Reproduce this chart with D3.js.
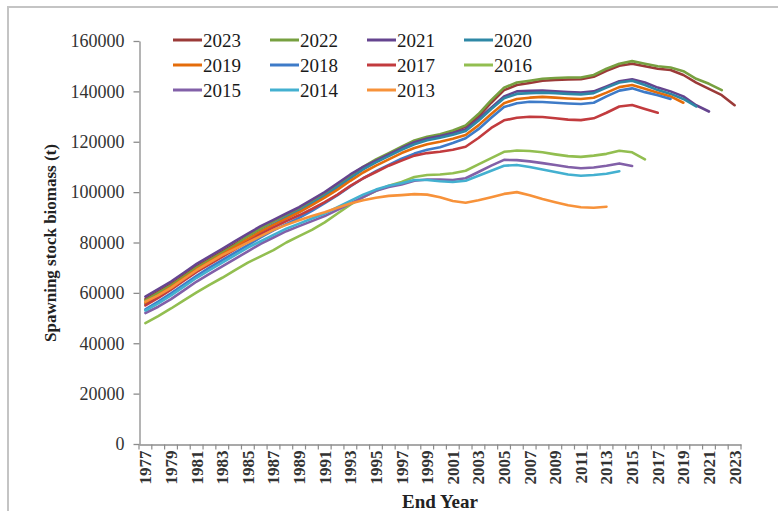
<!DOCTYPE html>
<html><head><meta charset="utf-8">
<script src="https://cdn.jsdelivr.net/npm/d3@7"></script>
<style>body{margin:0;background:#fff}svg{display:block}</style>
</head><body>
<svg id="c" width="778" height="511"></svg>
<script>
const years = [1977,1978,1979,1980,1981,1982,1983,1984,1985,1986,1987,1988,1989,1990,1991,1992,1993,1994,1995,1996,1997,1998,1999,2000,2001,2002,2003,2004,2005,2006,2007,2008,2009,2010,2011,2012,2013,2014,2015,2016,2017,2018,2019,2020,2021,2022,2023];
const xTickLabels = [1977,1979,1981,1983,1985,1987,1989,1991,1993,1995,1997,1999,2001,2003,2005,2007,2009,2011,2013,2015,2017,2019,2021,2023];
const yTicks = [0,20000,40000,60000,80000,100000,120000,140000,160000];
const seriesNames = ["2023","2022","2021","2020","2019","2018","2017","2016","2015","2014","2013"];

const s2023 = [57500,60500,63500,67000,70500,73500,76500,79500,82500,85500,88500,91000,93500,96500,99500,103000,106000,109500,112500,115000,117500,120000,121500,122500,124000,126000,130000,135500,140500,142500,143300,144200,144500,144700,144800,145800,148200,150200,151000,150000,149000,148500,146500,143500,141000,138500,134500];
const s2022 = [57000,60000,63000,66500,70000,73000,76000,79000,82500,85500,88500,91000,93500,96500,99500,103000,106500,110000,113000,115500,118000,120500,122000,123000,124500,126500,131000,136500,141500,143500,144200,145000,145300,145500,145500,146500,149000,151000,152000,151000,150000,149500,148000,145000,143000,140500];
const s2021 = [58500,61500,64500,68000,71500,74500,77500,80500,83500,86500,89000,91500,94000,97000,100000,103500,107000,110000,112500,115000,117500,119800,121300,122300,123500,125000,129000,133500,138000,140000,140200,140300,140000,139700,139500,140000,142000,144000,144800,143500,141500,140000,138000,134500,132000];
const s2020 = [55500,58500,61800,65300,68800,72000,75000,78000,81200,84300,87300,90000,92500,95500,98500,102000,105500,109000,111800,114300,116800,119000,120600,121600,122800,124300,128300,133000,137300,139000,139300,139500,139300,139000,138800,139300,141500,143500,144200,142500,140500,139000,137000,134000];
const s2019 = [56000,59000,62300,65800,69300,72300,75300,78300,81300,84300,87000,89500,92000,94800,97800,101000,104500,107800,110500,113000,115500,117500,119000,120000,121200,122700,126500,131000,135300,137000,137500,137800,137500,137200,137000,137500,139500,141700,142500,141000,139500,138000,135500];
const s2018 = [53500,56500,59800,63300,66800,70000,73000,76000,79000,82000,84800,87300,89800,92600,95600,98800,102300,105500,108300,110800,113300,115300,116800,117800,119500,121400,125000,129500,133800,135300,135900,135800,135500,135200,135000,135500,138000,140300,141200,139700,138500,137000];
const s2017 = [55000,58000,61300,64800,68300,71300,74300,77300,80300,83300,86000,88500,90800,93300,96000,99000,102500,105500,108000,110500,112500,114500,115500,116000,116800,118000,121500,125500,128500,129500,129900,129800,129300,128800,128600,129300,131500,134000,134600,133000,131500];
const s2016 = [48000,50800,53800,57000,60200,63200,66000,69000,72000,74500,77000,80000,82500,85000,88000,91500,95000,98000,100500,102500,104000,106000,106800,107000,107500,108500,111000,113500,116000,116500,116300,115800,115000,114300,114000,114500,115200,116400,115800,113000];
const s2015 = [52000,54500,57500,61000,64500,67500,70500,73500,76500,79500,82000,84500,86500,88500,90500,93000,95500,98000,100500,102000,103000,104500,105000,105000,104800,105500,108000,110500,112800,112700,112200,111500,110800,110000,109500,109800,110500,111400,110400];
const s2014 = [53000,55800,59000,62500,66000,69000,72000,75000,78000,80500,83000,85500,87500,89500,91500,94000,96500,99000,101000,102500,103500,104800,104800,104300,104000,104500,106500,108500,110500,110800,110000,109000,108000,107000,106500,106800,107300,108300];
const s2013 = [56500,59000,62000,65500,69000,72000,75000,77500,80000,82500,85000,87000,88800,90500,92000,93800,95500,96800,97800,98500,98800,99200,99000,98000,96500,95800,96800,98000,99300,100000,98800,97300,96000,94800,94000,93800,94200];

const seriesValues = [s2023,s2022,s2021,s2020,s2019,s2018,s2017,s2016,s2015,s2014,s2013];
const colors = ["#9B3A38","#77A040","#65448F","#2E88A6","#E46C0A","#3E7BC8","#C23B3E","#92BE50","#8260A8","#43B0D0","#F7923A"];

const svg = d3.select("#c");
const serif = "'Liberation Serif','Times New Roman',serif";

// outer frame
svg.append("rect").attr("x",8).attr("y",7).attr("width",800).attr("height",600)
  .attr("fill","none").attr("stroke","#c4c4c4").attr("stroke-width",2);

const x = d3.scaleBand().domain(years).range([139,741]).padding(0);
const cx = d => x(d) + x.bandwidth()/2;
const y = d3.scaleLinear().domain([0,160000]).range([444,41]);

// Y axis
const gy = svg.append("g").attr("transform","translate(139.5,0)")
  .call(d3.axisLeft(y).tickValues(yTicks).tickSize(6).tickSizeOuter(0).tickPadding(9).tickFormat(d3.format("d")));
gy.select(".domain").attr("stroke","#8c8c8c").attr("stroke-width",1.3);
gy.selectAll(".tick line").attr("stroke","#8c8c8c").attr("stroke-width",1.3);
gy.selectAll(".tick text").attr("font-family",serif).attr("font-size",18).attr("fill","#333");

// X axis
const gx = svg.append("g").attr("transform","translate(0,444.5)")
  .call(d3.axisBottom(x).tickValues(xTickLabels).tickSize(0).tickSizeOuter(0));
gx.select(".domain").attr("stroke","#8c8c8c").attr("stroke-width",1.3);
gx.selectAll(".tick text").attr("font-family",serif).attr("font-size",17).attr("font-weight","bold")
  .attr("fill","#333").attr("transform","rotate(-90)").attr("x",-6).attr("y",0).attr("dy","0.35em")
  .style("text-anchor","end");
// category boundary ticks
gx.selectAll(".bt").data(years.concat(["end"])).enter().append("line")
  .attr("x1", d => d === "end" ? x.range()[1] : x(d))
  .attr("x2", d => d === "end" ? x.range()[1] : x(d))
  .attr("y1",0).attr("y2",5).attr("stroke","#8c8c8c").attr("stroke-width",1.2);

// Axis titles
svg.append("text").attr("x",440).attr("y",508).attr("text-anchor","middle")
  .attr("font-family",serif).attr("font-size",19).attr("font-weight","bold").attr("fill","#222").text("End Year");
svg.append("text").attr("transform","translate(56,243) rotate(-90)").attr("text-anchor","middle")
  .attr("font-family",serif).attr("font-size",17).attr("font-weight","bold").attr("fill","#222")
  .text("Spawning stock biomass (t)");

// Lines
const line = d3.line().x((d,i) => cx(years[i])).y(d => y(d)).curve(d3.curveLinear);
svg.append("g").selectAll("path").data(seriesValues).enter().append("path")
  .attr("d", d => line(d)).attr("fill","none")
  .attr("stroke",(d,i) => colors[i]).attr("stroke-width",2.6)
  .attr("stroke-linejoin","round").attr("stroke-linecap","round");

// Legend
const lg = svg.append("g");
seriesNames.forEach((name,i) => {
  const col = i % 4, row = Math.floor(i / 4);
  const lx = 173 + col*97, ly = 40 + row*25;
  lg.append("line").attr("x1",lx).attr("x2",lx+29).attr("y1",ly).attr("y2",ly)
    .attr("stroke",colors[i]).attr("stroke-width",3);
  lg.append("text").attr("x",lx+30).attr("y",ly+6.5).attr("font-family",serif)
    .attr("font-size",19).attr("fill","#1a1a1a").text(name);
});
</script>
</body></html>
